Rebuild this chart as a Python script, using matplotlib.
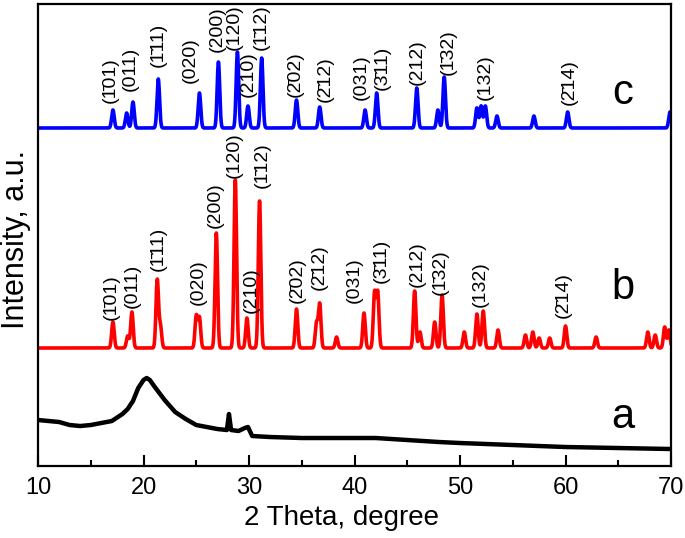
"""XRD patterns a/b/c stacked, with Miller index labels."""
import numpy as np
import matplotlib

matplotlib.use("Agg")
import matplotlib.pyplot as plt  # noqa: E402

plt.rcParams["font.family"] = ["Liberation Sans", "DejaVu Sans"]

BAR = "\u0304"  # combining overbar for negative indices

# pattern a (amorphous)
a_theta = [10, 11, 12, 13, 14, 15, 16, 17, 18, 18.5, 19, 19.5, 20, 20.3, 20.6,
           21, 21.5, 22, 22.5, 23, 24, 25, 26, 27, 27.9, 28.1, 28.3, 29, 29.6,
           29.9, 30.3, 32, 35, 38, 40, 42, 45, 48, 50, 55, 60, 65, 70]
a_int = [46, 45, 44, 41, 40, 41, 43, 45, 52, 57, 65, 78, 86, 88, 86,
         80, 73, 66, 60, 54, 47, 41, 39, 37, 36, 52, 36, 35, 38,
         39, 30, 29, 28, 28, 28, 28, 26, 24, 23, 21, 19, 18, 17]

# pattern b (red): baseline + peak list
b_base = 118
b_pos = [17.1, 18.5, 18.9, 21.3, 21.6, 25.0, 25.3, 26.9, 28.7, 29.8, 31.0,
         34.5, 36.4, 36.7, 38.3, 40.9, 41.9, 42.2, 45.7, 46.2, 47.6, 48.3,
         50.4, 51.6, 52.2, 53.6, 56.2, 56.9, 57.5, 58.5, 60.0, 62.9, 67.8,
         68.5, 69.4, 69.8]
b_amp = [26, 12, 36, 68, 22, 32, 30, 115, 168, 30, 147,
         39, 25, 44, 11, 35, 55, 55, 57, 16, 26, 53,
         16, 34, 37, 18, 13, 16, 10, 10, 22, 11, 16,
         13, 21, 18]

# pattern c (blue)
c_base = 338
c_pos = [17.1, 18.4, 19.0, 21.4, 25.3, 27.1, 28.9, 29.9, 31.2, 34.5, 36.7,
         41.0, 42.1, 45.9, 47.9, 48.5, 51.6, 52.0, 52.4, 53.5, 57.0, 60.2, 69.9]
c_amp = [18, 15, 26, 49, 35, 66, 76, 22, 70, 28, 21,
         18, 35, 40, 18, 51, 20, 22, 22, 12, 12, 16, 16]

hkl = ["(1" + BAR + "01)", "(011)", "(1" + BAR + "11)", "(020)", "(200)",
       "(120)", "(210)", "(1" + BAR + "12)", "(2" + BAR + "02)",
       "(2" + BAR + "12)", "(031)", "(3" + BAR + "11)", "(212)",
       "(1" + BAR + "32)", "(132)", "(2" + BAR + "14)"]
b_lab_x = [16.9, 18.9, 21.4, 25.2, 26.8, 28.6, 30.2, 31.3, 34.6, 36.7, 40.0,
           42.5, 45.9, 48.1, 51.9, 59.8]
b_lab_y = [146, 158, 195, 161, 238, 288, 153, 278, 163, 176, 163,
           183, 179, 171, 159, 148]
c_lab_x = [16.8, 18.7, 21.4, 24.4, 27.0, 28.6, 29.9, 31.2, 34.4, 37.2, 40.6,
           42.6, 45.9, 48.9, 52.4, 60.4]
c_lab_y = [363, 375, 399, 383, 414, 416, 369, 416, 369, 364, 366,
           376, 381, 391, 366, 361]

names = ["a", "b", "c"]
name_y = [49, 178, 373]


def profile(x, base, pos, amp, sigma=0.12):
    y = np.full_like(x, float(base))
    for p, h in zip(pos, amp):
        y += h * np.exp(-0.5 * ((x - p) / sigma) ** 2)
    return y


fig = plt.figure(figsize=(6.85, 5.38), dpi=100)
ax = fig.add_axes([0.0555, 0.1338, 0.9241, 0.8588])

x = np.linspace(10, 70, 3001)
ax.plot(a_theta, a_int, color="black", lw=3.2)
ax.plot(x, profile(x, b_base, b_pos, b_amp), color="#ff0000", lw=2.6)
ax.plot(x, profile(x, c_base, c_pos, c_amp), color="#0000ff", lw=2.6)

for lab, lx, ly in zip(hkl, b_lab_x, b_lab_y):
    ax.text(lx, ly, lab, rotation=90, ha="center", va="bottom", fontsize=14)
for lab, lx, ly in zip(hkl, c_lab_x, c_lab_y):
    ax.text(lx, ly, lab, rotation=90, ha="center", va="bottom", fontsize=14)
for n, ny in zip(names, name_y):
    ax.text(65.4, ny, n, ha="center", va="center", fontsize=30)

ax.set_xlim(10, 70)
ax.set_ylim(0, 462)
ax.set_xticks(np.arange(10, 71, 10))
ax.set_xticks(np.arange(15, 70, 10), minor=True)
ax.set_yticks([])
ax.tick_params(axis="x", which="major", direction="in", length=8, width=1.5,
               labelsize=17, pad=8)
ax.tick_params(axis="x", which="minor", direction="in", length=4, width=1.5)
for s in ax.spines.values():
    s.set_linewidth(1.6)
ax.set_xlabel("2 Theta, degree", fontsize=20)
ax.xaxis.set_label_coords(0.479, -0.085)
ax.set_ylabel("Intensity, a.u.", fontsize=22)
ax.yaxis.set_label_coords(-0.011, 0.49)

fig.savefig("out.png", dpi=100)
